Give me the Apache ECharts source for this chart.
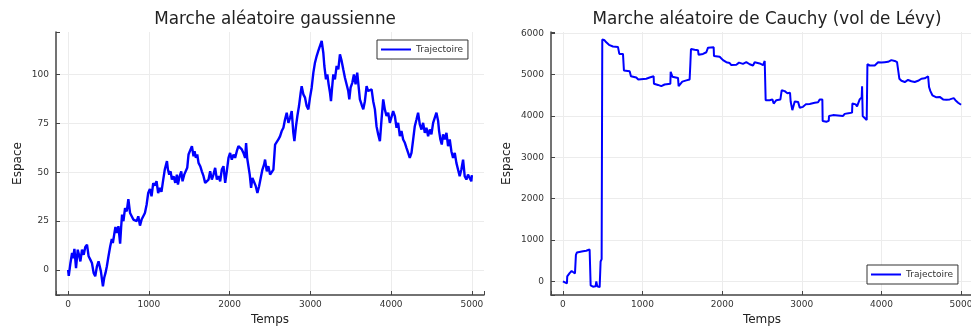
<!DOCTYPE html>
<html>
<head>
<meta charset="utf-8">
<script src="https://cdn.jsdelivr.net/npm/echarts@6/dist/echarts.min.js"></script>
<style>
  html, body { margin: 0; padding: 0; background: #fff; }
  #chart { width: 971px; height: 326px; }
</style>
</head>
<body>
<div id="chart"></div>
<script>
  // marche gaussienne
  var gaussTemps = [0, 8, 29, 49, 62, 78, 98, 119, 139, 152, 172, 193, 213, 234, 254, 275, 295, 316, 336, 357, 377, 390, 406, 431, 447, 463, 480, 500, 521, 541, 554, 570, 586, 603, 623, 644, 656, 668, 685, 705, 726, 746, 767, 787, 808, 828, 849, 869, 890, 910, 931, 951, 972, 992, 1013, 1033, 1054, 1074, 1095, 1115, 1136, 1156, 1177, 1197,
    1224, 1236, 1252, 1269, 1285, 1306, 1327, 1347, 1360, 1376, 1401, 1417, 1438, 1458, 1475, 1491, 1512, 1533, 1553, 1566, 1582, 1599, 1615, 1636, 1656, 1677, 1697, 1718, 1739, 1759, 1780, 1800, 1821, 1842, 1862, 1883, 1903, 1924, 1945, 1965, 1986, 2006, 2027, 2048, 2068, 2089, 2109, 2130, 2151, 2171, 2192, 2204, 2217, 2233, 2249, 2266, 2282, 2299, 2324, 2344, 2365, 2385, 2406, 2427, 2439, 2460, 2480, 2501,
    2522, 2542, 2563, 2583, 2604, 2625, 2645, 2666, 2686, 2707, 2728, 2748, 2769, 2789, 2802, 2822, 2839, 2859, 2880, 2892, 2913, 2934, 2954, 2975, 2995, 3016, 3037, 3057, 3078, 3098, 3119, 3140, 3152, 3160, 3173, 3193, 3210, 3226, 3243, 3255, 3267, 3284, 3304, 3325, 3346, 3366, 3387, 3407, 3428, 3449, 3469, 3482, 3498, 3519, 3539, 3560, 3580, 3601, 3613, 3634, 3655, 3675, 3696, 3716,
    3737, 3758, 3778, 3799, 3819, 3840, 3861, 3881, 3902, 3922, 3943, 3964, 3984, 4005, 4025, 4046, 4067, 4087, 4108, 4128, 4149, 4170, 4190, 4211, 4231, 4252, 4273, 4293, 4314, 4334, 4355, 4376, 4396, 4417, 4437, 4458, 4479, 4499, 4520, 4540, 4561, 4582, 4594, 4610, 4627, 4643, 4664, 4685, 4705, 4726, 4746, 4767, 4788, 4808, 4829, 4849, 4870, 4891, 4911, 4932, 4952, 4973, 4993, 5000];
  var gaussEspace = [0, -3, 3.6, 8.7, 6, 10.8, 1, 10.4, 7, 4.4, 10.4, 7.8, 11.8, 13, 7, 5.3, 3.6, -1.5, -3.2, 1.9, 4.4, 5.3, -0.7, -8.4, -4, -1.5, 1.9, 7, 12, 15.9, 13.8, 18, 22, 19, 22.4, 13.5, 21.5, 28.3, 25, 31.7, 30, 36.3, 29.2, 28.3, 25.8, 26.6, 25, 27.5, 22.7, 25.8, 26.6, 29.2, 33.4, 39.4, 41.5, 37.7, 44.5, 43.2, 45.4, 39.4, 42, 40, 46, 51.4,
    55.7, 51.4, 48.8, 50.5, 46.3, 48, 44.6, 48.8, 43.7, 47.1, 50.5, 45.4, 48.8, 48, 52.3, 59.1, 59.9, 63.4, 58.2, 60.8, 57.4, 59.1, 54.8, 53.1, 50.5, 48, 44.6, 43.7, 46.3, 50.5, 46.3, 48.8, 52.3, 46.3, 48, 45.4, 51.4, 53.1, 44.6, 50.5, 57.4, 59.9, 56.5, 59.1, 57.4, 60.8, 63.4, 64.2, 61.7, 59.9, 57.4, 65, 57.4, 53.1, 48.8, 42, 47.1, 45.4, 42.9, 39.4, 42.9, 47.1, 51.4, 54, 56.5, 50.5, 53.1, 48.8,
    49.7, 51.4, 64.2, 63.4, 66.8, 68.5, 71.1, 72.8, 77, 80.5, 75.3, 77.9, 81.3, 70.2, 65.9, 73.6, 78.8, 83.9, 90.7, 94.1, 89.9, 88.2, 83.9, 82.2, 88.2, 93.3, 101, 106.1, 109.5, 112.1, 111.2, 117.2, 118, 111.2, 104.4, 97.6, 100.1, 95, 90.7, 86.4, 92.4, 100.1, 97.6, 104.4, 102.7, 110.4, 107, 102.7, 98.4, 97.6, 91.6, 87.3, 93.3, 95.8, 100.1, 95, 101, 92.4, 87.3, 84.7, 82.2, 86.4, 94.1, 91.6,
    90.7, 92.4, 86.4, 82.2, 73.6, 69.4, 65.9, 77, 87.3, 82.2, 78.8, 80.5, 75.3, 74.5, 81.3, 78.8, 72.8, 75.3, 68.5, 71.1, 66.8, 65.1, 62.5, 59.9, 57.4, 59.9, 66.8, 73.6, 77, 80.5, 74.5, 71.9, 75.3, 70.2, 72.8, 68.5, 71.9, 69.4, 75.3, 77.9, 80.5, 76.2, 71.1, 66.8, 64.2, 69.4, 66.8, 70.2, 63.4, 66.8, 60.8, 57.4, 59.9, 54.8, 55.7, 48, 51.4, 56.5, 48, 46.3, 48.8, 47.1, 45.4, 48.5];

  // marche de Cauchy
  var cauchyTemps = [0, 21, 50, 54, 84, 109, 134, 151, 159, 163, 176, 201, 251, 293, 335, 343, 348, 377, 410, 419, 431, 461, 469, 473, 486, 490, 494, 523, 544, 578, 628, 691, 704, 708, 754, 762, 766, 838, 854, 921, 946, 1047, 1089, 1139, 1143, 1194, 1235, 1277, 1349, 1353, 1374, 1445, 1453, 1499, 1550, 1591, 1600, 1608, 1654, 1696, 1704, 1759, 1801, 1822, 1893, 1897, 1968, 2010, 2052, 2094, 2115, 2178, 2211, 2261, 2303, 2345, 2387, 2408, 2471, 2513, 2534, 2542, 2546, 2597, 2630, 2647, 2680, 2731, 2747, 2785, 2819, 2852, 2860, 2881, 2911, 2953, 2974, 3015, 3049, 3099, 3162, 3204, 3225, 3258, 3262, 3309, 3338, 3342, 3392, 3455, 3518, 3539, 3602, 3631, 3635, 3677, 3694, 3727, 3752, 3757, 3765, 3790, 3815, 3819, 3824, 3853, 3878, 3916, 3958, 3999, 4041, 4083, 4125, 4167, 4196, 4217, 4225, 4251, 4293, 4334, 4376, 4418, 4460, 4502, 4544, 4586, 4598, 4615, 4640, 4691, 4732, 4774, 4816, 4858, 4879, 4908, 4929, 4963, 5000];
  var cauchyEspace = [0, -40, -50, 120, 200, 250, 240, 190, 190, 640, 700, 740, 730, 740, 770, 770, -100, -130, -120, 0, -120, -140, -140, 480, 540, 550, 5850, 5830, 5780, 5720, 5680, 5670, 5660, 5500, 5500, 5500, 5100, 5080, 4960, 4930, 4880, 4900, 4930, 4960, 4780, 4750, 4720, 4760, 4780, 5070, 4950, 4920, 4720, 4830, 4860, 4880, 5250, 5620, 5600, 5590, 5480, 5500, 5540, 5650, 5660, 5450, 5430, 5350, 5300, 5280, 5230, 5240, 5290, 5260, 5300, 5250, 5220, 5300, 5270, 5230, 5330, 5330, 4380, 4380, 4400, 4300, 4380, 4400, 4620, 4600, 4550, 4560, 4350, 4140, 4350, 4340, 4200, 4220, 4280, 4290, 4320, 4330, 4400, 4400, 3880, 3860, 3880, 4000, 4020, 4010, 4000, 4050, 4070, 4080, 4300, 4280, 4230, 4400, 4450, 4720, 4000, 4000, 3900, 3900, 5250, 5220, 5180, 5220, 5300, 5290, 5300, 5310, 5350, 5330, 5300, 5270, 4900, 4850, 4820, 4870, 4840, 4820, 4850, 4900, 4910, 4960, 4700, 4600, 4500, 4450, 4460, 4400, 4390, 4400, 4440, 4430, 4380, 4320, 4270];

  var gaussData = gaussTemps.map(function (t, i) { return [t, gaussEspace[i]]; });
  var cauchyData = cauchyTemps.map(function (t, i) { return [t, cauchyEspace[i]]; });

  var font = 'DejaVu Sans';
  var gridCol = '#ececec';
  var none = 'rgba(0,0,0,0)';

  function onlyMultiples(step) {
    return function (v) { return Math.abs(v / step - Math.round(v / step)) < 1e-6 ? String(v) : ''; };
  }

  function xAx(idx) {
    return {
      type: 'value', gridIndex: idx, min: -150, max: 5150,
      minInterval: 1000, maxInterval: 1000,
      name: 'Temps', nameLocation: 'middle', nameGap: 18,
      nameTextStyle: { fontFamily: font, fontSize: 12, color: '#222' },
      axisLine: { onZero: false, lineStyle: { color: '#444', width: 1.5 } },
      axisTick: { inside: true, length: 4, lineStyle: { color: '#444' } },
      axisLabel: { fontFamily: font, fontSize: 9, color: '#333', margin: 5, formatter: onlyMultiples(1000) },
      splitLine: { show: true, lineStyle: { color: [none, gridCol, gridCol, gridCol, gridCol, gridCol, gridCol, none], width: 1 } }
    };
  }

  function yAx(idx, lo, hi, step, gap, cols) {
    return {
      type: 'value', gridIndex: idx, min: lo, max: hi,
      minInterval: step, maxInterval: step,
      name: 'Espace', nameLocation: 'middle', nameGap: gap,
      nameTextStyle: { fontFamily: font, fontSize: 12, color: '#222' },
      axisLine: { show: true, onZero: false, lineStyle: { color: '#444', width: 1.5 } },
      axisTick: { show: true, inside: true, length: 4, lineStyle: { color: '#444' } },
      axisLabel: { fontFamily: font, fontSize: 9, color: '#333', margin: 7, formatter: onlyMultiples(step) },
      splitLine: { show: true, lineStyle: { color: cols, width: 1 } }
    };
  }

  var option = {
    animation: false,
    backgroundColor: '#fff',
    title: [
      { text: 'Marche aléatoire gaussienne', left: 270, top: 6, textAlign: 'center',
        textStyle: { fontFamily: font, fontSize: 16.8, fontWeight: 'normal', color: '#222' } },
      { text: 'Marche aléatoire de Cauchy (vol de Lévy)', left: 762, top: 6, textAlign: 'center',
        textStyle: { fontFamily: font, fontSize: 16.8, fontWeight: 'normal', color: '#222' } }
    ],
    legend: [
      { data: ['Trajectoire'], left: 377, top: 40, orient: 'vertical',
        icon: 'rect', itemWidth: 30, itemHeight: 2, padding: [5, 5, 5, 4],
        borderColor: '#333', borderWidth: 1, backgroundColor: '#fff',
        textStyle: { fontFamily: font, fontSize: 9, color: '#333' } },
      { data: ['Trajectoire '], left: 867, top: 265, orient: 'vertical',
        icon: 'rect', itemWidth: 30, itemHeight: 2, padding: [5, 5, 5, 4],
        borderColor: '#333', borderWidth: 1, backgroundColor: '#fff',
        textStyle: { fontFamily: font, fontSize: 9, color: '#333' },
        formatter: function (n) { return n.trim(); } }
    ],
    grid: [
      { left: 56, top: 32, width: 428, height: 263, outerBoundsMode: 'none', containLabel: false },
      { left: 551, top: 32, width: 422, height: 263, outerBoundsMode: 'none', containLabel: false }
    ],
    xAxis: [xAx(0), xAx(1)],
    yAxis: [
      yAx(0, -12.8, 121.8, 25, 32, [none, gridCol, gridCol, gridCol, gridCol, gridCol, none]),
      yAx(1, -330, 6030, 1000, 38, [none, gridCol, gridCol, gridCol, gridCol, gridCol, gridCol, gridCol, none])
    ],
    series: [
      { name: 'Trajectoire', type: 'line', xAxisIndex: 0, yAxisIndex: 0, data: gaussData,
        showSymbol: false, symbol: 'none', color: '#0000ff', lineStyle: { width: 2.4, color: '#0000ff' } },
      { name: 'Trajectoire ', type: 'line', xAxisIndex: 1, yAxisIndex: 1, data: cauchyData,
        showSymbol: false, symbol: 'none', color: '#0000ff', lineStyle: { width: 2, color: '#0000ff' } }
    ]
  };

  var myChart = echarts.init(document.getElementById('chart'));
  myChart.setOption(option);
</script>
</body>
</html>
